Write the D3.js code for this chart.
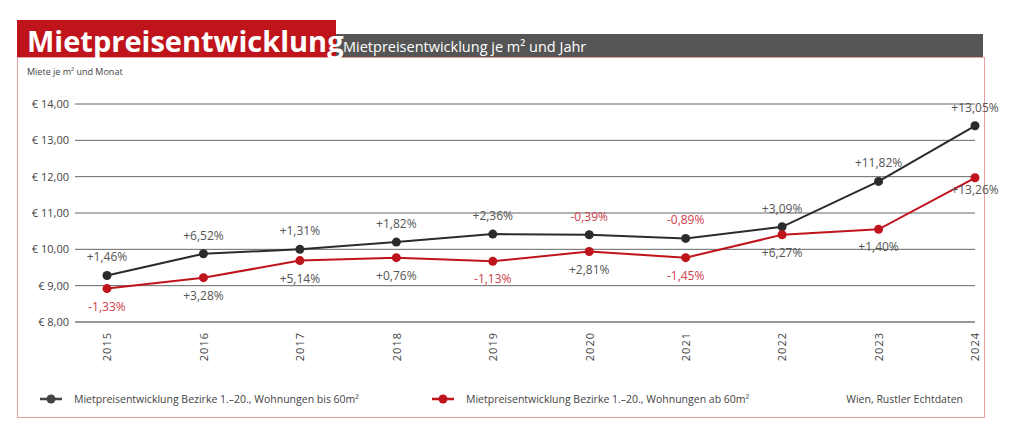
<!DOCTYPE html>
<html>
<head>
<meta charset="UTF-8">
<script src="https://d3js.org/d3.v7.min.js"></script>
<style>
body{margin:0;background:#fff;font-family:"Open Sans",sans-serif;}
</style>
</head>
<body>
<svg id="chart" width="1024" height="436"></svg>
<script>
var years = ["2015","2016","2017","2018","2019","2020","2021","2022","2023","2024"];
var small = [9.28, 9.88, 10.00, 10.20, 10.42, 10.40, 10.30, 10.62, 11.87, 13.40];
var large = [8.92, 9.22, 9.69, 9.77, 9.67, 9.94, 9.77, 10.40, 10.55, 11.97];
var smallLbl = ["+1,46%","+6,52%","+1,31%","+1,82%","+2,36%","-0,39%","-0,89%","+3,09%","+11,82%","+13,05%"];
var largeLbl = ["-1,33%","+3,28%","+5,14%","+0,76%","-1,13%","+2,81%","-1,45%","+6,27%","+1,40%","+13,26%"];
var yTicks = [8,9,10,11,12,13,14];

var svg = d3.select("#chart");
var RED = "#c0141c", DARK = "#333", GREY = "#555";

// frame and title
svg.append("rect").attr("x",17.5).attr("y",57.5).attr("width",967).attr("height",360)
  .attr("fill","none").attr("stroke","#e8a0a4");
svg.append("rect").attr("x",336).attr("y",34).attr("width",647).attr("height",23).attr("fill","#555");
svg.append("rect").attr("x",17).attr("y",20).attr("width",319).attr("height",37).attr("fill",RED);
svg.append("text").attr("x",27).attr("y",52).attr("fill","#fff").attr("font-size",29)
  .attr("font-weight","bold").text("Mietpreisentwicklung");
svg.append("text").attr("x",343).attr("y",52).attr("fill","#fff").attr("font-size",14.5)
  .text("Mietpreisentwicklung je m² und Jahr");
svg.append("text").attr("x",27).attr("y",75).attr("fill","#444").attr("font-size",9)
  .text("Miete je m² und Monat");

var x = d3.scalePoint().domain(years).range([107,975]);
var y = d3.scaleLinear().domain([8,14]).range([322,104]);

var yAxis = svg.append("g").attr("transform","translate(75,0)")
  .call(d3.axisLeft(y).tickValues(yTicks).tickSize(0).tickPadding(6)
    .tickFormat(function(d){ return "€ " + d3.format(".2f")(d).replace(".",","); }));
yAxis.select(".domain").remove();
yAxis.selectAll("text").attr("font-size",11).attr("fill","#444").attr("font-family","Open Sans");
svg.append("g").selectAll("line").data(yTicks).join("line")
  .attr("x1",75).attr("x2",975).attr("y1",y).attr("y2",y)
  .attr("stroke",function(d){return d===8?"#999":"#666";}).attr("stroke-width",function(d){return d===8?2:1;});

var xAxis = svg.append("g").attr("transform","translate(0,330)")
  .call(d3.axisBottom(x).tickSize(0).tickPadding(0));
xAxis.select(".domain").remove();
xAxis.selectAll("text").attr("transform","rotate(-90)").attr("text-anchor","end")
  .attr("x",-2).attr("y",0).attr("dy","0.35em").attr("font-size",11).attr("fill","#444")
  .attr("letter-spacing",1).attr("font-family","Open Sans");

function series(vals, col, lbls, dy){
  var line = d3.line().x(function(d,i){return x(years[i]);}).y(function(d){return y(d);});
  svg.append("path").datum(vals).attr("d",line).attr("fill","none").attr("stroke",col).attr("stroke-width",2);
  svg.append("g").selectAll("circle").data(vals).join("circle")
    .attr("cx",function(d,i){return x(years[i]);}).attr("cy",y).attr("r",4.5).attr("fill",col);
  svg.append("g").selectAll("text").data(vals).join("text")
    .attr("x",function(d,i){return x(years[i]) + (i===9 && dy>0 ? 0 : 0);})
    .attr("y",function(d,i){return y(d) + (i===9 && dy>0 ? -dy*0.1 + 18 : dy);})
    .attr("text-anchor","middle").attr("font-size",12)
    .attr("fill",function(d,i){return lbls[i][0]==="-" ? "#d0404a" : GREY;})
    .text(function(d,i){return lbls[i];});
}
series(small, "#2b2b2b", smallLbl, -14);
series(large, RED, largeLbl, 22);

// legend
var lg = svg.append("g").attr("font-size",10.5).attr("fill","#444");
[[ "#444", "Mietpreisentwicklung Bezirke 1.–20., Wohnungen bis 60m²", 40],
 [ RED, "Mietpreisentwicklung Bezirke 1.–20., Wohnungen ab 60m²", 432]].forEach(function(l){
  lg.append("line").attr("x1",l[2]).attr("x2",l[2]+22).attr("y1",399).attr("y2",399).attr("stroke",l[0]).attr("stroke-width",2.5);
  lg.append("circle").attr("cx",l[2]+11).attr("cy",399).attr("r",4.5).attr("fill",l[0]);
  lg.append("text").attr("x",l[2]+34).attr("y",403).text(l[1]);
});
lg.append("text").attr("x",963).attr("y",403).attr("text-anchor","end").text("Wien, Rustler Echtdaten");
</script>
</body>
</html>
